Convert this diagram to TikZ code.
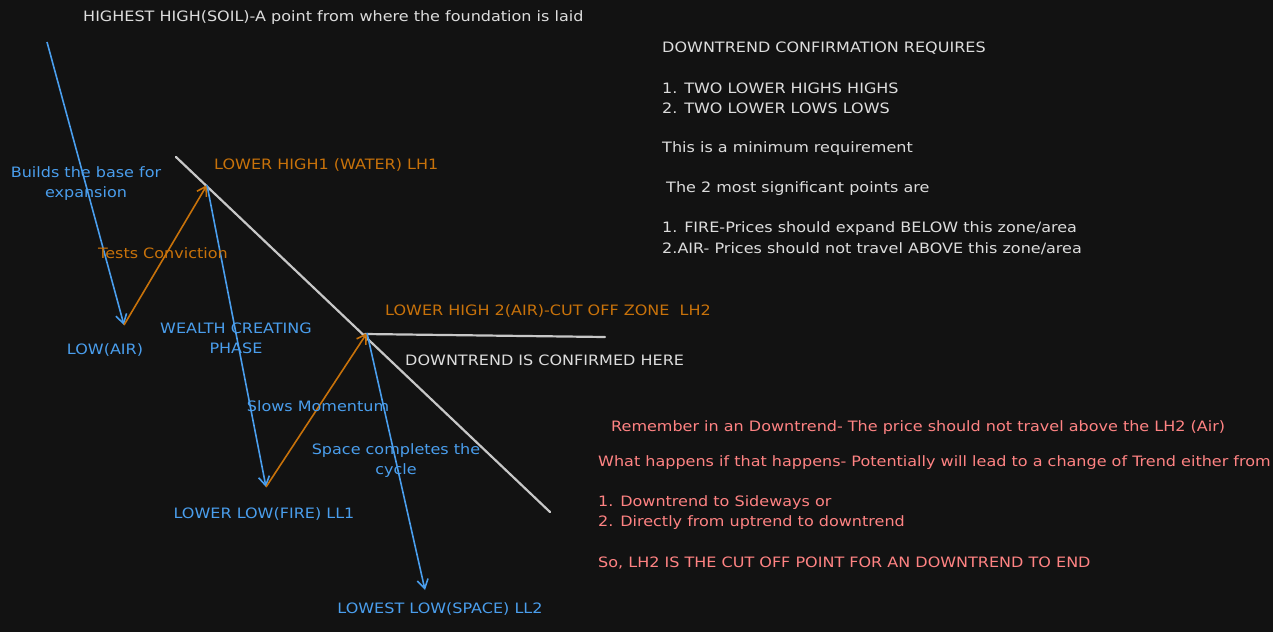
\documentclass[tikz,border=0pt]{standalone}
\usepackage{fontspec}
\setmainfont{DejaVu Sans}
\usetikzlibrary{arrows.meta}
\definecolor{bg}{HTML}{121212}
\definecolor{cblue}{HTML}{4A9EED}
\definecolor{corange}{HTML}{C8720A}
\definecolor{cwhite}{HTML}{DDDDDD}
\definecolor{cred}{HTML}{FF8383}
\tikzset{
  txt/.style={font=\fontsize{14.3}{20}\selectfont, inner sep=0pt, align=left, xscale=1.12, transform shape},
  wt/.style={txt, text=cwhite, anchor=west},
  bt/.style={txt, text=cblue, align=center},
  ot/.style={txt, text=corange},
  rt/.style={txt, text=cred, anchor=west},
  barr/.style={draw=cblue, line width=1.6pt, -{Straight Barb[length=9pt,width=11pt]}},
  oarr/.style={draw=corange, line width=1.6pt, -{Straight Barb[length=9pt,width=11pt]}},
  wline/.style={draw=cwhite!90!black, line width=2.2pt, line cap=round},
}
\begin{document}
\begin{tikzpicture}[x=1pt,y=-1pt]
\fill[bg] (0,0) rectangle (1273,632);
\useasboundingbox (0,0) rectangle (1273,632);
\coordinate (p0) at (47,42);
\coordinate (p1) at (124,325);
\coordinate (p2) at (207,185);
\coordinate (p3) at (266,487);
\coordinate (p4) at (367,333);
\coordinate (p5) at (425,590);
\coordinate (t1) at (176,157);
\coordinate (t2) at (550,512);
\coordinate (h1) at (365,334);
\coordinate (h2) at (605,337);
\draw[wline] (t1) -- (t2);
\draw[wline] (h1) -- (h2);
\draw[barr] (p0) -- (p1);
\draw[oarr] (p1) -- (p2);
\draw[barr] (p2) -- (p3);
\draw[oarr] (p3) -- (p4);
\draw[barr] (p4) -- (p5);

\node[wt] (title) at (83,18) {HIGHEST HIGH(SOIL)-A point from where the foundation is laid};
\node[bt] (base) at (86,184) {Builds the base for\\expansion};
\node[ot, anchor=west] (lh1) at (214,165) {LOWER HIGH1 (WATER) LH1};
\node[ot] (tests) at (163,253) {Tests Conviction};
\node[bt] (low) at (105,350) {LOW(AIR)};
\node[bt] (wealth) at (236,338) {WEALTH CREATING\\PHASE};
\node[ot, anchor=west] (lh2) at (385,311) {LOWER HIGH 2(AIR)-CUT OFF ZONE~~LH2};
\node[wt] (conf) at (405,360) {DOWNTREND IS CONFIRMED HERE};
\node[bt] (slows) at (318,406) {Slows Momentum};
\node[bt] (space) at (396,461) {Space completes the\\cycle};
\node[bt] (ll1) at (264,514) {LOWER LOW(FIRE) LL1};
\node[bt] (ll2) at (440,609) {LOWEST LOW(SPACE) LL2};

\node[wt] (w1) at (662,48) {DOWNTREND CONFIRMATION REQUIRES};
\node[wt] (w2) at (662,88) {1. TWO LOWER HIGHS HIGHS};
\node[wt] (w3) at (662,108) {2. TWO LOWER LOWS LOWS};
\node[wt] (w4) at (662,149) {This is a minimum requirement};
\node[wt] (w5) at (666,189) {The 2 most significant points are};
\node[wt] (w6) at (662,229) {1. FIRE-Prices should expand BELOW this zone/area};
\node[wt] (w7) at (662,249) {2.AIR- Prices should not travel ABOVE this zone/area};

\node[rt] (r1) at (611,428) {Remember in an Downtrend- The price should not travel above the LH2 (Air)};
\node[rt] (r2) at (598,463) {What happens if that happens- Potentially will lead to a change of Trend either from};
\node[rt] (r3) at (598,503) {1. Downtrend to Sideways or};
\node[rt] (r4) at (598,523) {2. Directly from uptrend to downtrend};
\node[rt] (r5) at (598,563) {So, LH2 IS THE CUT OFF POINT FOR AN DOWNTREND TO END};
\end{tikzpicture}
\end{document}
